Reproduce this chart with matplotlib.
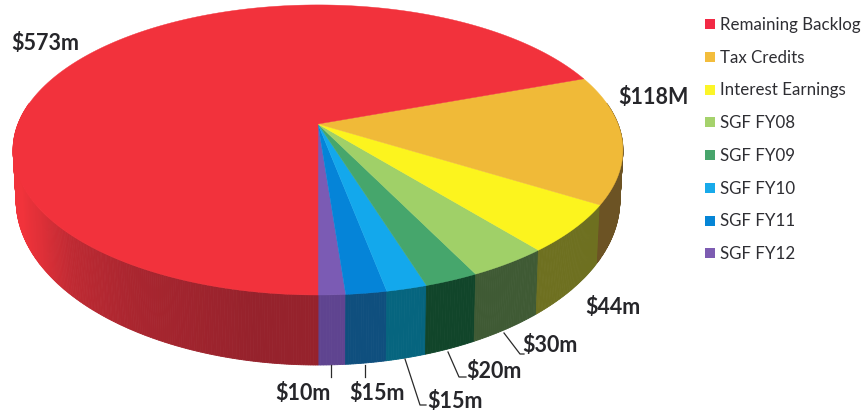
import matplotlib
matplotlib.use('Agg')
import matplotlib.pyplot as plt
from matplotlib.patches import Rectangle
import numpy as np

plt.rcParams['font.family'] = ['Lato', 'DejaVu Sans']

# slices run anticlockwise on screen, starting at the front of the pie
categories = ['SGF FY12', 'SGF FY11', 'SGF FY10', 'SGF FY09', 'SGF FY08',
              'Interest Earnings', 'Tax Credits', 'Remaining Backlog']
amounts = [10, 15, 15, 20, 30, 44, 118, 573]
amount_labels = ['$10m', '$15m', '$15m', '$20m', '$30m', '$44m', '$118M', '$573m']

top_colors = ['#7b5bb4', '#0584d8', '#13a8ec', '#46a66c', '#a0d068',
              '#fcf41e', '#f0ba38', '#f2323c']
wall_colors = ['#5f4490', '#0f4f7e', '#06657f', '#11452a', '#3f5a34',
               '#6e7020', '#6c5324', '#96222c']
legend_colors = ['#f22a45', '#f3bd3c', '#fcf528', '#a5d26c',
                 '#48a56c', '#18aaea', '#0585d6', '#7d5cb2']
legend_names = categories[::-1]

# perspective view of the disc, top rim and bottom rim
tilt = 0.179
cx = 318


def top_rim(theta):
    d = 1 - tilt * np.cos(theta)
    return cx + 300 * np.sin(theta) / d, 124 + 140.4 * np.cos(theta) / d


def bottom_rim(theta):
    d = 1 - tilt * np.cos(theta)
    return cx + 297 * np.sin(theta) / d, 170.5 + 159.7 * np.cos(theta) / d


def red_wall(theta, base):
    # the big wall gets lighter as it turns away to the left
    fade = np.interp(theta, [-1.15, -0.98, -0.8, -0.55, -0.17], [1, 0.8, 0.45, 0.22, 0])
    return tuple(np.array(base) + fade * (np.array((0.945, 0.2, 0.23)) - np.array(base)))


fig = plt.figure(figsize=(8.65, 4.13), dpi=100)
ax = fig.add_axes([0, 0, 1, 1])
ax.set_xlim(0, 865)
ax.set_ylim(413, 0)
ax.axis('off')

edges = np.concatenate([[0], np.cumsum(amounts)]) / sum(amounts) * 2 * np.pi

# side walls first, the top face goes over them
for i in range(len(amounts)):
    steps = np.linspace(edges[i], edges[i + 1], max(3, int((edges[i + 1] - edges[i]) * 150)))
    for a, b in zip(steps[:-1], steps[1:]):
        if np.cos(a) < -0.15 and np.cos(b) < -0.15:
            continue
        x0, y0 = top_rim(np.array([a, b]))
        x1, y1 = bottom_rim(np.array([b, a]))
        color = matplotlib.colors.to_rgb(wall_colors[i])
        if categories[i] == 'Remaining Backlog':
            color = red_wall((a + b) / 2 - 2 * np.pi, color)
        ax.fill(np.r_[x0, x1], np.r_[y0, y1], color=color, lw=0.6, zorder=2)

for i in range(len(amounts)):
    arc = np.linspace(edges[i], edges[i + 1], 200)
    x, y = top_rim(arc)
    ax.fill(np.r_[cx, x], np.r_[124, y], color=top_colors[i], lw=0.3, zorder=3)

# value labels and their leader lines
label_pos = [(303, 393), (377, 393), (455, 401), (494, 371), (550, 346),
             (613, 308), (653, 98), (45, 43)]
for text, (x, y) in zip(amount_labels, label_pos):
    ax.text(x, y, text, fontsize=15.5, fontweight='bold', color='#26262a',
            ha='center', va='center', zorder=5)

leaders = [[(331, 365), (331, 377)],
           [(365, 365), (365, 377)],
           [(405, 359), (420, 405), (426, 405)],
           [(448, 352), (459, 377), (466, 377)],
           [(504, 333), (520, 354), (524, 354)]]
for line in leaders:
    xs, ys = zip(*line)
    ax.plot(xs, ys, color='#2a2a2a', lw=0.9, zorder=4)

# legend column
for i, (name, color) in enumerate(zip(legend_names, legend_colors)):
    y = 24.3 + 32.7 * i
    ax.add_patch(Rectangle((705, y - 5), 10, 10, color=color, lw=0, zorder=4))
    ax.text(720, y + 0.8, name, fontsize=12.2, color='#2e2e33', ha='left', va='center', zorder=5)

fig.savefig('out.png', dpi=100)
